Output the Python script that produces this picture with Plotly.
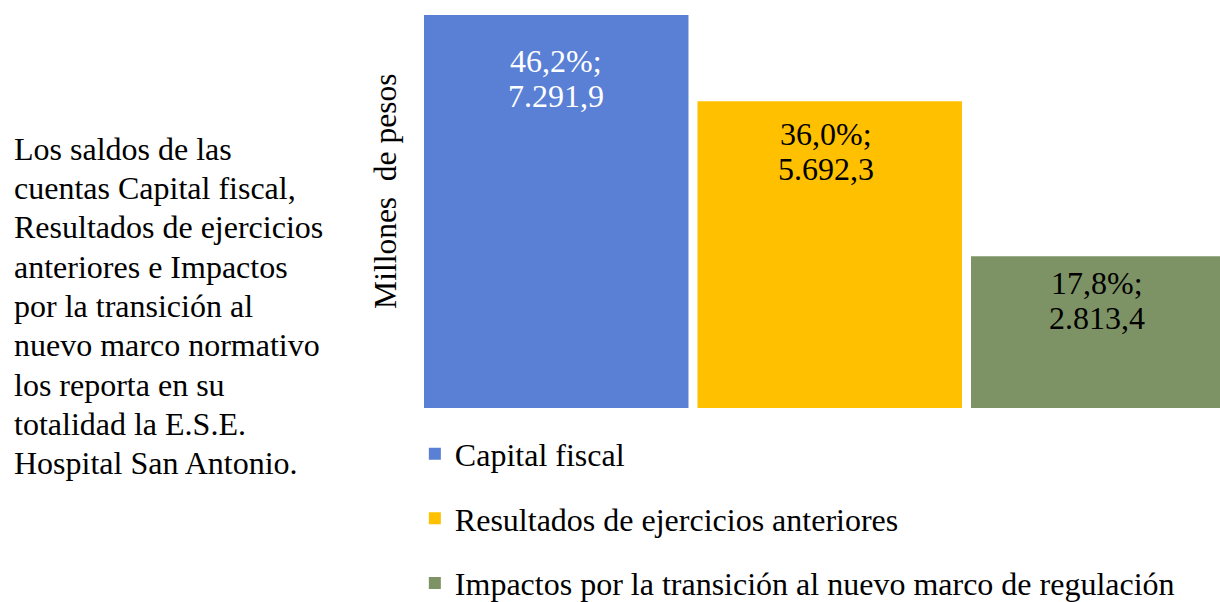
import plotly.graph_objects as go

categories = ["Capital fiscal", "Resultados de ejercicios anteriores",
              "Impactos por la transición al nuevo marco de regulación"]
values = [7291.9, 5692.3, 2813.4]
percent_labels = ["46,2%;", "36,0%;", "17,8%;"]
value_labels = ["7.291,9", "5.692,3", "2.813,4"]
paragraph_lines = ["Los saldos de las", "cuentas Capital fiscal,", "Resultados de ejercicios",
                   "anteriores e Impactos", "por la transición al", "nuevo marco normativo",
                   "los reporta en su", "totalidad la E.S.E.", "Hospital San Antonio."]
y_title = "Millones  de pesos"

colors = ["#5A80D6", "#FFC000", "#7E9365"]
label_colors = ["white", "black", "black"]
label_offsets = [-26, -13, -7]
label_xshifts = [0, -4, -6]
label_line_gap = 35

FONT = "Liberation Serif"

# plot area at x 424..1220, y 15..408
W, H = 1220, 602
L, T = 424, 15
PLOT_H = 393

fig = go.Figure()
for i, (cat, val) in enumerate(zip(categories, values)):
    fig.add_trace(go.Bar(
        x=[i], y=[val], name=cat, width=0.967,
        marker=dict(color=colors[i], line=dict(width=0)),
        legendgroup=str(i), hoverinfo="skip",
    ))
    for j, txt in enumerate([percent_labels[i], value_labels[i]]):
        fig.add_annotation(
            x=i, y=val, xref="x", yref="y", yanchor="top",
            yshift=label_offsets[i] - j * label_line_gap, xshift=label_xshifts[i],
            text=txt, showarrow=False,
            font=dict(family=FONT, size=32, color=label_colors[i]),
        )

# left paragraph, one annotation per line for Word-like line spacing
first_center, pitch = 149, 39.25
for k, line in enumerate(paragraph_lines):
    yc = first_center + pitch * k
    fig.add_annotation(
        x=-0.5176, y=(408 - yc) / PLOT_H, xref="paper", yref="paper",
        xanchor="left", yanchor="middle", align="left", text=line, showarrow=False,
        font=dict(family=FONT, size=32, color="black"),
    )

fig.add_annotation(
    x=-0.0477, y=0.55, xref="paper", yref="paper", xanchor="center", yanchor="middle",
    text=y_title, textangle=-90, showarrow=False,
    font=dict(family=FONT, size=31.5, color="black"),
)

fig.update_layout(
    width=W, height=H,
    margin=dict(l=L, r=0, t=T, b=H - T - PLOT_H, autoexpand=False),
    paper_bgcolor="white", plot_bgcolor="white",
    barmode="overlay",
    showlegend=True,
    legend=dict(
        x=-0.0115, y=-0.047, xanchor="left", yanchor="top",
        orientation="v", traceorder="grouped", tracegroupgap=20,
        font=dict(family=FONT, size=32, color="black"),
        bgcolor="rgba(0,0,0,0)",
    ),
    xaxis=dict(range=[-0.4835, 2.427], visible=False, fixedrange=True),
    yaxis=dict(range=[0, 7291.9], visible=False, fixedrange=True),
)

fig.write_html("out.html", config={"displayModeBar": False},
               post_script="document.body.style.margin='0';document.body.style.overflow='hidden';")
